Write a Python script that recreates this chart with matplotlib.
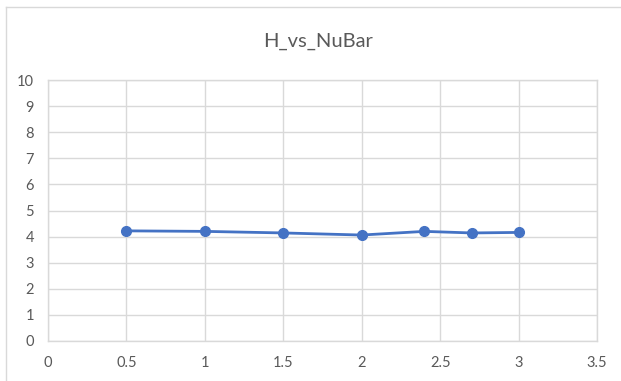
import numpy as np
import matplotlib
matplotlib.use('Agg')
import matplotlib.pyplot as plt
from matplotlib.lines import Line2D

# data
nubar = [0.5, 1.0, 1.5, 2.0, 2.4, 2.7, 3.0]
h_val = [4.22, 4.20, 4.14, 4.06, 4.20, 4.14, 4.16]
xticks = [0, 0.5, 1, 1.5, 2, 2.5, 3, 3.5]
yticks = list(range(0, 11))

plt.rcParams['font.family'] = ['Lato', 'DejaVu Sans']

W, H = 621, 381
fig = plt.figure(figsize=(W/100, H/100), dpi=100)
# chart area border (only left and top visible in the crop)
fig.lines.append(Line2D([5.5/W, 5.5/W], [0, 1 - 7/H], transform=fig.transFigure, color='#d9d9d9', lw=1))
fig.lines.append(Line2D([5.5/W, 1], [1 - 7/H, 1 - 7/H], transform=fig.transFigure, color='#d9d9d9', lw=1))

ax = fig.add_axes([48/W, 1 - 341/H, (597-48)/W, (341-80)/H])
ax.plot(nubar, h_val, color='#4472C4', lw=2, marker='o', ms=7, zorder=3)

ax.set_xlim(0, 3.5); ax.set_ylim(0, 10)
ax.set_xticks(xticks)
ax.set_xticklabels([f'{v:g}' for v in xticks])
ax.set_yticks(yticks)
ax.grid(True, color='#d9d9d9', lw=1)
ax.set_axisbelow(True)
for s in ax.spines.values():
    s.set_color('#d9d9d9'); s.set_linewidth(1)
ax.tick_params(length=0, labelsize=10.5, labelcolor='#595959')
ax.tick_params(axis='x', pad=11)
ax.tick_params(axis='y', pad=10)

fig.text(318/W, 1 - 41/H, 'H_vs_NuBar', ha='center', va='center', fontsize=14.5, color='#595959')

plt.savefig('out.png', dpi=100)
